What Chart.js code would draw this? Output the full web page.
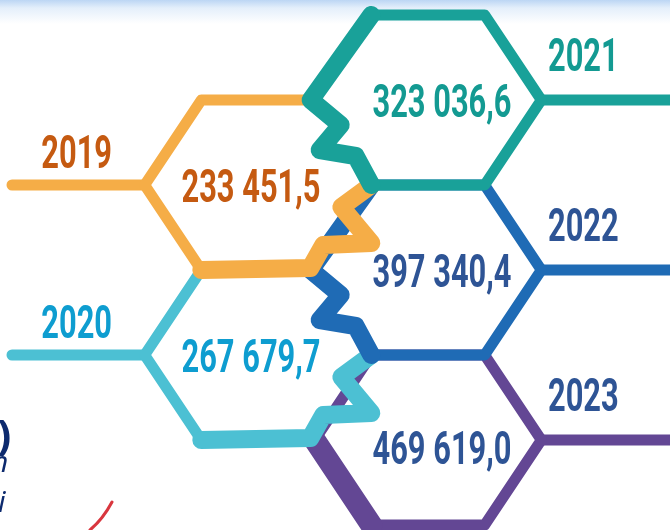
<!DOCTYPE html>
<html lang="ru">
<head>
<meta charset="UTF-8">
<title>Hex chart</title>
<script src="https://cdn.jsdelivr.net/npm/chart.js"></script>
<style>
  html, body { margin: 0; padding: 0; }
  body { background: linear-gradient(#bcd6f4 0px, #e4effb 8px, #ffffff 24px); }
  .wrap { width: 670px; height: 530px; position: relative; }
</style>
</head>
<body>
<div class="wrap"><canvas id="hex"></canvas></div>
<script>
  // dados
  const anos = ['2019', '2020', '2021', '2022', '2023'];
  const valores = [233451.5, 267679.7, 323036.6, 397340.4, 469619.0];
  const corLinha = ['#f5ad47', '#4cc0d3', '#19a199', '#1f6bb5', '#634794'];
  const corTexto = ['#c55a11', '#0e9dd0', '#139a92', '#2e5495', '#2e5495'];

  // posição na colmeia: coluna e linha (meia altura)
  const coluna = [0, 0, 1, 1, 1];
  const linha = [1, 3, 0, 2, 4];

  function fmt(v) {
    const p = v.toFixed(1).split('.');
    return p[0].replace(/\B(?=(\d{3})+(?!\d))/g, ' ') + ',' + p[1];
  }

  // formatos dos hexágonos (offsets em px em relação ao centro)
  function formaEsq(R, H) {
    return {
      path: [[R, 0], [R - 30, 22], [R, 58], [R - 48, 60], [R - 61, H - 2], [-R / 2, H], [-R, 0], [-R / 2, -H], [R / 2, -H]],
      grosso: [[R, 0], [R - 30, 22], [R, 58], [R - 48, 60], [R - 61, H - 2], [-R / 2, H]],
      fechado: false
    };
  }
  function formaDir(R, H) {
    return {
      path: [[-R / 2, -H], [R / 2, -H], [R, 0], [R / 2, H], [-R / 2, H], [-R + 41, 56], [-R + 5, 50], [-R + 26, 25], [-R - 4, 0]],
      grosso: [[-R / 2, H], [-R + 41, 56], [-R + 5, 50], [-R + 26, 25], [-R - 4, 0], [-R / 2, -H]],
      fechado: true
    };
  }
  function formaUlt(R, H) {
    return {
      path: [[-R / 2, -H], [R / 2, -H], [R, 0], [R / 2, H], [-R / 2, H], [-R, 0]],
      grosso: [[-R, 0], [-R / 2, H]],
      fechado: true
    };
  }

  function linhaPts(ctx, pts, cx, cy, fechar) {
    ctx.beginPath();
    pts.forEach(function (p, k) {
      if (k == 0) ctx.moveTo(cx + p[0], cy + p[1]);
      else ctx.lineTo(cx + p[0], cy + p[1]);
    });
    if (fechar) ctx.closePath();
    ctx.stroke();
  }

  function texto(ctx, str, x, y, cor, tam) {
    ctx.save();
    ctx.fillStyle = cor;
    ctx.font = 'bold ' + tam + 'px Roboto';
    ctx.textAlign = 'center';
    ctx.textBaseline = 'alphabetic';
    ctx.translate(x, y + tam * 0.355);
    ctx.scale(0.67, 1);
    ctx.fillText(str, 0, 0);
    ctx.restore();
  }

  const colmeia = {
    id: 'colmeia',
    afterDatasetsDraw(chart) {
      const ctx = chart.ctx;
      const sx = chart.scales.x, sy = chart.scales.y;
      const R = (sx.getPixelForValue(1) - sx.getPixelForValue(0)) / 1.5;
      const H = sy.getPixelForValue(1) - sy.getPixelForValue(0);
      const area = chart.chartArea;
      const meta = chart.getDatasetMeta(0);

      ctx.save();
      ctx.lineJoin = 'round';
      ctx.lineCap = 'round';

      // ordem de desenho para o encaixe
      const ordem = [4, 1, 3, 0, 2];
      ordem.forEach(function (i) {
        const cx = meta.data[i].x, cy = meta.data[i].y;
        let f;
        if (coluna[i] == 0) f = formaEsq(R, H);
        else if (i == anos.length - 1) f = formaUlt(R, H);
        else f = formaDir(R, H);
        ctx.strokeStyle = corLinha[i];

        // linha do ano
        ctx.lineWidth = 11;
        ctx.beginPath();
        if (coluna[i] == 0) {
          ctx.moveTo(cx - R, cy);
          ctx.lineTo(area.left + 12, cy);
        } else {
          ctx.moveTo(cx + R, cy);
          ctx.lineTo(area.right + 10, cy);
        }
        ctx.stroke();

        linhaPts(ctx, f.path, cx, cy, f.fechado);
        ctx.lineWidth = (i == anos.length - 1) ? 22 : 18;
        linhaPts(ctx, f.grosso, cx, cy, false);
      });

      // textos
      anos.forEach(function (a, i) {
        const cx = meta.data[i].x, cy = meta.data[i].y;
        if (coluna[i] == 0) {
          texto(ctx, a, cx - R - 68, cy - 33, corTexto[i], 46);
          texto(ctx, fmt(valores[i]), cx - 7, cy + 1, corTexto[i], 46);
        } else {
          texto(ctx, a, cx + R + 42, cy - 45, corTexto[i], 46);
          texto(ctx, fmt(valores[i]), cx + 14, cy + (i == anos.length - 1 ? 8 : 1), corTexto[i], 46);
        }
      });

      // restos do slide à esquerda
      ctx.fillStyle = '#0d2a6e';
      ctx.textAlign = 'left';
      ctx.textBaseline = 'alphabetic';
      ctx.font = 'bold 42px "Open Sans"';
      ctx.fillText(')', -3, 450);
      ctx.font = 'italic 30px "Open Sans"';
      ctx.fillText('n', -9, 472);
      ctx.fillText('i', -2, 512);
      ctx.strokeStyle = '#d9363e';
      ctx.lineWidth = 3;
      ctx.beginPath();
      ctx.moveTo(90, 530);
      ctx.quadraticCurveTo(103, 519, 112, 502);
      ctx.stroke();
      ctx.restore();
    }
  };

  const pontos = anos.map(function (a, i) { return { x: coluna[i], y: linha[i] }; });

  new Chart(document.getElementById('hex'), {
    type: 'scatter',
    data: {
      datasets: [{
        label: 'Valores',
        data: pontos,
        pointRadius: 0,
        pointHoverRadius: 0
      }]
    },
    options: {
      responsive: true,
      maintainAspectRatio: false,
      animation: false,
      layout: { padding: 0 },
      plugins: { legend: { display: false }, tooltip: { enabled: false } },
      scales: {
        x: { display: false, min: -258 / 170, max: 412 / 170 },
        y: { display: false, reverse: true, min: -100 / 85, max: 430 / 85 }
      }
    },
    plugins: [colmeia]
  });
</script>
</body>
</html>
